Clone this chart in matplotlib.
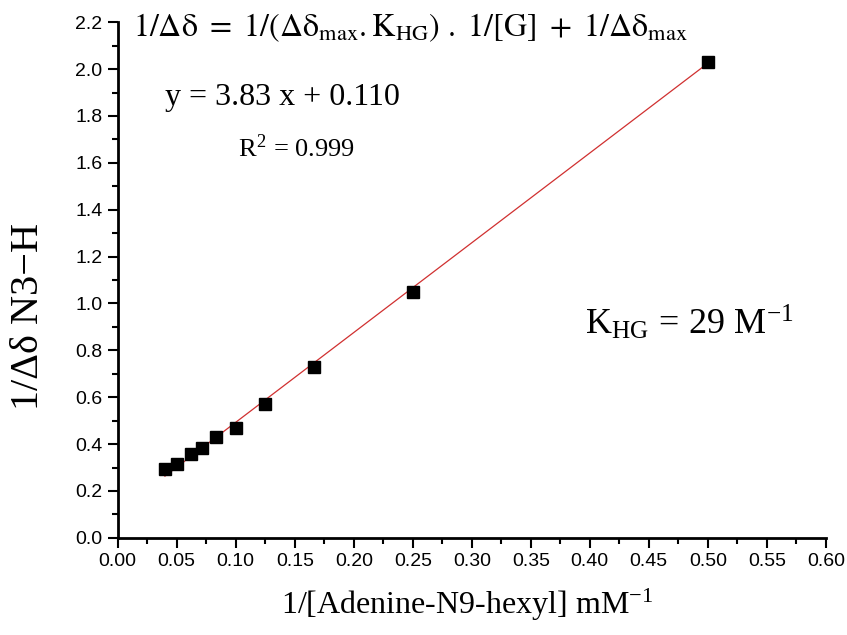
import numpy as np
import matplotlib.pyplot as plt
from matplotlib.ticker import MultipleLocator

# data
inv_conc = [0.04, 0.05, 0.0625, 0.0714, 0.0833, 0.10, 0.125, 0.1667, 0.25, 0.50]
inv_shift = [0.294, 0.316, 0.358, 0.384, 0.43, 0.469, 0.573, 0.727, 1.047, 2.03]
slope = 3.83
intercept = 0.110

plt.rcParams['mathtext.fontset'] = 'stix'
serif = ['Liberation Serif', 'DejaVu Serif']
narrow = ['Liberation Sans Narrow', 'Liberation Sans', 'DejaVu Sans']

fig = plt.figure(figsize=(8.47, 6.35), dpi=100)
ax = fig.add_axes([0.139, 0.153, 0.836, 0.812])

xfit = np.array([min(inv_conc), max(inv_conc)])
ax.plot(xfit, slope * xfit + intercept, color='#d03030', lw=0.9, zorder=2)
ax.plot(inv_conc, inv_shift, 's', color='black', ms=8, zorder=3)

ax.set_xlim(0, 0.6)
ax.set_ylim(0, 2.2)
ax.xaxis.set_major_locator(MultipleLocator(0.05))
ax.xaxis.set_minor_locator(MultipleLocator(0.025))
ax.yaxis.set_major_locator(MultipleLocator(0.2))
ax.yaxis.set_minor_locator(MultipleLocator(0.1))
ax.xaxis.set_major_formatter(plt.FuncFormatter(lambda v, p: f"{v:.2f}"))
ax.yaxis.set_major_formatter(plt.FuncFormatter(lambda v, p: f"{v:.1f}"))

for s in ['top', 'right']:
    ax.spines[s].set_visible(False)
for s in ['left', 'bottom']:
    ax.spines[s].set_linewidth(2)
ax.tick_params(which='major', length=7, width=1.5, direction='out', pad=4)
ax.tick_params(which='minor', length=4, width=1.5, direction='out')
for lab in ax.get_xticklabels() + ax.get_yticklabels():
    lab.set_family(narrow)
    lab.set_fontsize(14)

# axis titles
fig.text(0.552, 1 - 605 / 635, r'1/[Adenine-N9-hexyl] mM$^{\mathregular{-1}}$',
         family=serif, fontsize=23, ha='center', va='center')
fig.text(29 / 847, 1 - 316 / 635, '1/Δδ N3\u2212H', family=serif, fontsize=29,
         rotation=90, ha='center', va='center')

fig.text(133 / 847, 1 - 11 / 635,
         r'$\mathrm{1/\Delta\delta\ =\ 1/(\Delta\delta_{max}.K_{HG})\ .\ 1/[G]\ +\ 1/\Delta\delta_{max}}$',
         fontsize=23, va='top', ha='left')
fig.text(165 / 847, 1 - 97 / 635, 'y = 3.83 x + 0.110',
         family=serif, fontsize=23, va='center', ha='left')
fig.text(238 / 847, 1 - 148 / 635, r'R$^{\mathregular{2}}$ = 0.999',
         family=serif, fontsize=19, va='center', ha='left')
fig.text(585 / 847, 1 - 323 / 635, r'K$_{\mathregular{HG}}$ = 29 M$^{\mathregular{-1}}$',
         family=serif, fontsize=26, va='center', ha='left')

fig.savefig('out.png', dpi=100)
